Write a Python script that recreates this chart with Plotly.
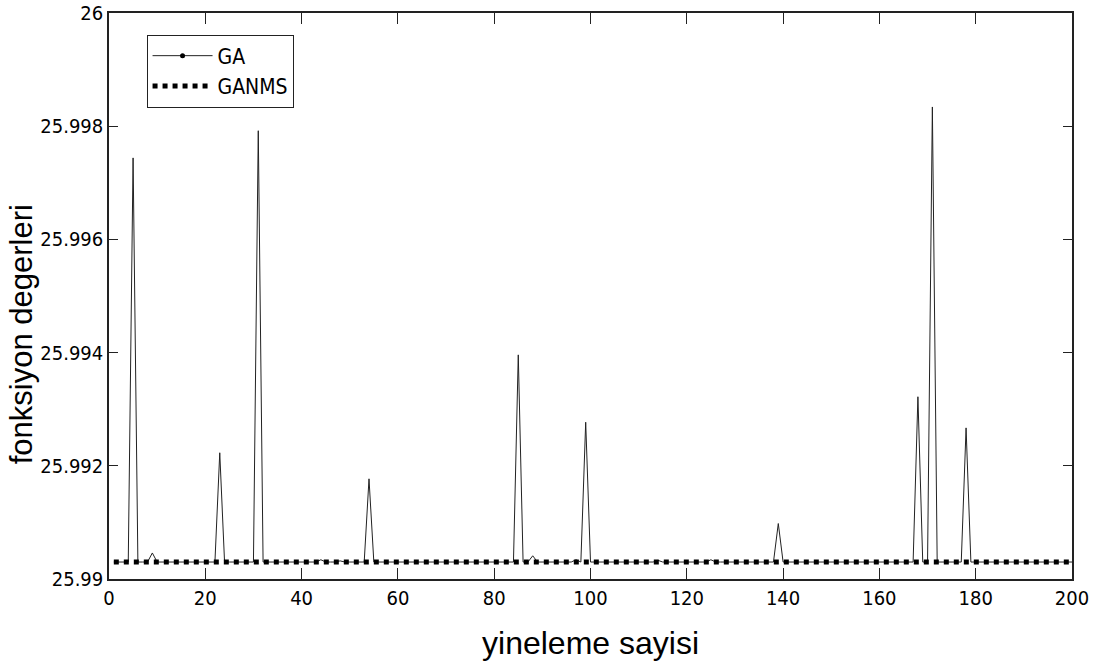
import plotly.graph_objects as go

# iteration index
iterations = list(range(1, 201))

# GA function values
ga_values = [
    25.9903, 25.9903, 25.9903, 25.9903, 25.99744, 25.9903, 25.9903, 25.9903, 25.99046, 25.9903,
    25.9903, 25.9903, 25.9903, 25.9903, 25.9903, 25.9903, 25.9903, 25.9903, 25.9903, 25.9903,
    25.9903, 25.9903, 25.99223, 25.9903, 25.9903, 25.9903, 25.9903, 25.9903, 25.9903, 25.9903,
    25.99792, 25.9903, 25.9903, 25.9903, 25.9903, 25.9903, 25.9903, 25.9903, 25.9903, 25.9903,
    25.9903, 25.9903, 25.9903, 25.99034, 25.9903, 25.9903, 25.9903, 25.99032, 25.9903, 25.9903,
    25.9903, 25.9903, 25.9903, 25.99177, 25.9903, 25.9903, 25.9903, 25.9903, 25.9903, 25.9903,
    25.9903, 25.9903, 25.9903, 25.9903, 25.9903, 25.9903, 25.9903, 25.9903, 25.9903, 25.9903,
    25.9903, 25.9903, 25.9903, 25.9903, 25.9903, 25.9903, 25.9903, 25.9903, 25.9903, 25.9903,
    25.9903, 25.9903, 25.9903, 25.9903, 25.99396, 25.9903, 25.9903, 25.99041, 25.9903, 25.9903,
    25.9903, 25.9903, 25.9903, 25.9903, 25.9903, 25.9903, 25.99034, 25.9903, 25.99277, 25.9903,
    25.9903, 25.9903, 25.9903, 25.9903, 25.9903, 25.9903, 25.9903, 25.9903, 25.9903, 25.9903,
    25.9903, 25.9903, 25.9903, 25.99033, 25.9903, 25.9903, 25.9903, 25.9903, 25.9903, 25.9903,
    25.9903, 25.9903, 25.9903, 25.9903, 25.99034, 25.9903, 25.9903, 25.9903, 25.9903, 25.9903,
    25.9903, 25.9903, 25.9903, 25.9903, 25.9903, 25.9903, 25.9903, 25.9903, 25.99098, 25.9903,
    25.9903, 25.9903, 25.9903, 25.9903, 25.9903, 25.9903, 25.9903, 25.9903, 25.9903, 25.9903,
    25.9903, 25.9903, 25.9903, 25.9903, 25.9903, 25.9903, 25.9903, 25.9903, 25.9903, 25.9903,
    25.9903, 25.9903, 25.9903, 25.9903, 25.9903, 25.9903, 25.9903, 25.99322, 25.9903, 25.9903,
    25.99834, 25.9903, 25.9903, 25.9903, 25.9903, 25.9903, 25.9903, 25.99267, 25.9903, 25.9903,
    25.9903, 25.9903, 25.9903, 25.9903, 25.9903, 25.9903, 25.9903, 25.9903, 25.9903, 25.9903,
    25.9903, 25.9903, 25.9903, 25.9903, 25.9903, 25.9903, 25.9903, 25.9903, 25.9903, 25.9903,
]

# GANMS function values (constant at the optimum)
ganms_values = [
    25.9903, 25.9903, 25.9903, 25.9903, 25.9903, 25.9903, 25.9903, 25.9903, 25.9903, 25.9903,
    25.9903, 25.9903, 25.9903, 25.9903, 25.9903, 25.9903, 25.9903, 25.9903, 25.9903, 25.9903,
    25.9903, 25.9903, 25.9903, 25.9903, 25.9903, 25.9903, 25.9903, 25.9903, 25.9903, 25.9903,
    25.9903, 25.9903, 25.9903, 25.9903, 25.9903, 25.9903, 25.9903, 25.9903, 25.9903, 25.9903,
    25.9903, 25.9903, 25.9903, 25.9903, 25.9903, 25.9903, 25.9903, 25.9903, 25.9903, 25.9903,
    25.9903, 25.9903, 25.9903, 25.9903, 25.9903, 25.9903, 25.9903, 25.9903, 25.9903, 25.9903,
    25.9903, 25.9903, 25.9903, 25.9903, 25.9903, 25.9903, 25.9903, 25.9903, 25.9903, 25.9903,
    25.9903, 25.9903, 25.9903, 25.9903, 25.9903, 25.9903, 25.9903, 25.9903, 25.9903, 25.9903,
    25.9903, 25.9903, 25.9903, 25.9903, 25.9903, 25.9903, 25.9903, 25.9903, 25.9903, 25.9903,
    25.9903, 25.9903, 25.9903, 25.9903, 25.9903, 25.9903, 25.9903, 25.9903, 25.9903, 25.9903,
    25.9903, 25.9903, 25.9903, 25.9903, 25.9903, 25.9903, 25.9903, 25.9903, 25.9903, 25.9903,
    25.9903, 25.9903, 25.9903, 25.9903, 25.9903, 25.9903, 25.9903, 25.9903, 25.9903, 25.9903,
    25.9903, 25.9903, 25.9903, 25.9903, 25.9903, 25.9903, 25.9903, 25.9903, 25.9903, 25.9903,
    25.9903, 25.9903, 25.9903, 25.9903, 25.9903, 25.9903, 25.9903, 25.9903, 25.9903, 25.9903,
    25.9903, 25.9903, 25.9903, 25.9903, 25.9903, 25.9903, 25.9903, 25.9903, 25.9903, 25.9903,
    25.9903, 25.9903, 25.9903, 25.9903, 25.9903, 25.9903, 25.9903, 25.9903, 25.9903, 25.9903,
    25.9903, 25.9903, 25.9903, 25.9903, 25.9903, 25.9903, 25.9903, 25.9903, 25.9903, 25.9903,
    25.9903, 25.9903, 25.9903, 25.9903, 25.9903, 25.9903, 25.9903, 25.9903, 25.9903, 25.9903,
    25.9903, 25.9903, 25.9903, 25.9903, 25.9903, 25.9903, 25.9903, 25.9903, 25.9903, 25.9903,
    25.9903, 25.9903, 25.9903, 25.9903, 25.9903, 25.9903, 25.9903, 25.9903, 25.9903, 25.9903,
]

x_ticks = [0, 20, 40, 60, 80, 100, 120, 140, 160, 180, 200]
y_ticks = [25.99, 25.992, 25.994, 25.996, 25.998, 26.0]
y_tick_labels = ["25.99", "25.992", "25.994", "25.996", "25.998", "26"]

narrow = "Liberation Sans Narrow, DejaVu Sans Condensed, Arial Narrow, sans-serif"
regular = "Liberation Sans, Arial, sans-serif"

fig = go.Figure()

fig.add_trace(go.Scatter(
    x=iterations, y=ga_values, mode="lines", name="GA",
    line=dict(color="#222222", width=1), showlegend=False, legendgroup="ga",
))
fig.add_trace(go.Scatter(
    x=[None], y=[None], mode="lines+markers", name="GA",
    line=dict(color="#222222", width=1), marker=dict(color="#000000", size=5),
    legendgroup="ga",
))
fig.add_trace(go.Scatter(
    x=iterations, y=ganms_values, mode="lines", name="GANMS",
    line=dict(color="#000000", width=5, dash="5px,5px"),
))

axis_common = dict(
    showline=True, linecolor="#222222", linewidth=1.5, mirror="ticks",
    ticks="inside", tickcolor="#222222", tickwidth=1.2,
    showgrid=False, zeroline=False, automargin=False,
    ticklabeloverflow="allow",
    tickfont=dict(family=narrow, size=20, color="#000000"),
)

fig.update_layout(
    width=1113, height=666,
    margin=dict(l=109, r=41, t=13, b=87, autoexpand=False),
    paper_bgcolor="white", plot_bgcolor="white",
    xaxis=dict(
        range=[0, 200], tickvals=x_ticks, ticklen=11,
        title=dict(text="yineleme sayisi", font=dict(family=regular, size=32, color="#000000"), standoff=23),
        **axis_common,
    ),
    yaxis=dict(
        range=[25.99, 26.0], tickvals=y_ticks, ticktext=y_tick_labels, ticklen=9,
        **axis_common,
    ),
    annotations=[dict(
        text="fonksiyon degerleri", textangle=-90,
        xref="paper", yref="paper", x=-0.0905, y=0.432,
        xanchor="center", yanchor="middle", showarrow=False,
        font=dict(family=regular, size=31, color="#000000"),
    )],
    legend=dict(
        x=0.039, y=0.962, xanchor="left", yanchor="top",
        bgcolor="white", bordercolor="#222222", borderwidth=1,
        font=dict(family=narrow, size=21, color="#000000"),
        itemwidth=60, tracegroupgap=0,
    ),
)

fig.write_html(
    "out.html",
    config={"displayModeBar": False},
    post_script="document.body.style.margin='0px';",
)
